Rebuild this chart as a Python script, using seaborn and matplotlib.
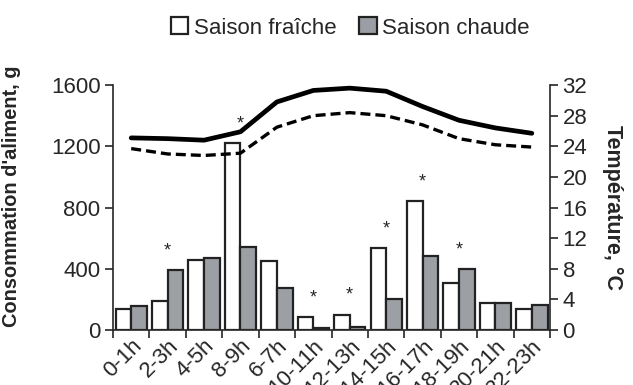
import numpy as np
import pandas as pd
import seaborn as sns
import matplotlib.pyplot as plt
from matplotlib.patches import Patch

# valeurs
heures = ["0-1h", "2-3h", "4-5h", "8-9h", "6-7h", "10-11h", "12-13h",
          "14-15h", "16-17h", "18-19h", "20-21h", "22-23h"]
fraiche = [140, 192, 459, 1220, 452, 84, 100, 535, 840, 305, 178, 135]
chaude = [157, 393, 468, 542, 271, 12, 20, 200, 482, 395, 178, 160]
temp_chaude = [25.1, 25.0, 24.8, 25.9, 29.8, 31.3, 31.6, 31.2, 29.2, 27.4, 26.4, 25.7]
temp_fraiche = [23.7, 23.0, 22.8, 23.1, 26.5, 28.0, 28.4, 28.0, 26.8, 25.0, 24.2, 23.9]
signif = [False, True, False, True, False, True, True, True, True, True, False, False]

saisons = ["Saison fraîche", "Saison chaude"]
couleurs = ["white", "#9b9fa5"]

data = pd.DataFrame({
    "heure": heures * 2,
    "conso": fraiche + chaude,
    "saison": [saisons[0]] * 12 + [saisons[1]] * 12,
})

sns.set_style("ticks")
plt.rcParams["font.family"] = ["Liberation Sans", "DejaVu Sans"]
plt.rcParams["font.size"] = 16

fig = plt.figure(figsize=(6.33, 3.85), dpi=100)
ax = fig.add_axes([0.1785, 0.143, 0.6905, 0.636])

sns.barplot(data=data, x="heure", y="conso", hue="saison", order=heures,
            hue_order=saisons, palette=couleurs, width=0.86,
            edgecolor="#222222", linewidth=1.6, ax=ax, legend=False)

# astérisques au-dessus des barres
for i, s in enumerate(signif):
    if s:
        ax.text(i, max(fraiche[i], chaude[i]) + 70, "*", ha="center",
                va="bottom", fontsize=13)

ax.set_xlim(-0.5, len(heures) - 0.5)
ax.set_ylim(0, 1600)
ax.set_yticks([0, 400, 800, 1200, 1600])
ax.set_xlabel("")
ax.set_ylabel("Consommation d'aliment, g", fontweight="bold", fontsize=14.4)
ax.yaxis.set_label_coords(-0.21, 0.545)
ax.set_xticks(range(len(heures)))
ax.set_xticklabels(heures, rotation=45, ha="right", rotation_mode="anchor")
ax.tick_params(axis="x", length=0, pad=4)
ax.set_xticks(np.arange(-0.5, len(heures)), minor=True)
ax.tick_params(axis="x", which="minor", length=6, width=1.2, direction="out")
ax.tick_params(axis="y", length=6, width=1.2, direction="out", pad=3)
for sp in ["left", "bottom"]:
    ax.spines[sp].set_linewidth(1.2)
ax.spines["top"].set_visible(False)
ax.spines["right"].set_visible(False)

# températures sur l'axe de droite
ax2 = ax.twinx()
x = np.arange(len(heures))
sns.lineplot(x=x, y=temp_chaude, color="black", linewidth=3.4, ax=ax2,
             solid_joinstyle="round", solid_capstyle="round")
sns.lineplot(x=x, y=temp_fraiche, color="black", linewidth=2.4,
             linestyle=(0, (3, 1.5)), ax=ax2)
ax2.set_ylim(0, 32)
ax2.set_yticks(range(0, 33, 4))
ax2.set_ylabel("Température, °C", fontweight="bold", fontsize=15.5,
               rotation=-90, labelpad=26)
ax2.tick_params(axis="y", length=6, width=1.2, direction="out", pad=3)
ax2.spines["right"].set_linewidth(1.2)
ax2.spines["top"].set_visible(False)
ax2.spines["left"].set_visible(False)
ax2.spines["bottom"].set_visible(False)

handles = [Patch(facecolor=c, edgecolor="#222222", linewidth=1.6) for c in couleurs]
fig.legend(handles, saisons, loc="center", bbox_to_anchor=(0.553, 0.927), ncol=2,
           frameon=False, handlelength=0.8, handleheight=0.8, handletextpad=0.25,
           columnspacing=1.0, fontsize=16)

fig.savefig("out.png", dpi=100)
